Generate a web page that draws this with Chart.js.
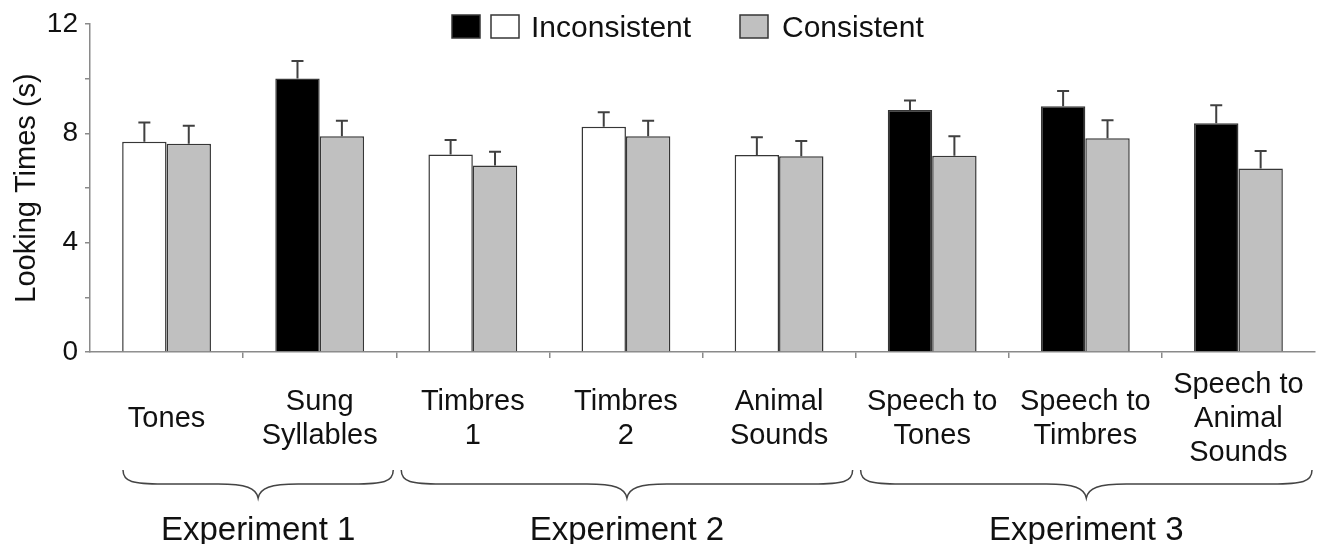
<!DOCTYPE html>
<html>
<head>
<meta charset="utf-8">
<script src="https://cdn.jsdelivr.net/npm/chart.js@4.4.1/dist/chart.umd.min.js"></script>
<style>
  html, body { margin: 0; padding: 0; background: #fff; }
  #wrap { width: 1333px; height: 544px; position: relative; }
</style>
</head>
<body>
<div id="wrap"><canvas id="lookingChart"></canvas></div>
<script>
// Categories (multi-line labels)
const categories = [
  'Tones',
  ['Sung', 'Syllables'],
  ['Timbres', '1'],
  ['Timbres', '2'],
  ['Animal', 'Sounds'],
  ['Speech to', 'Tones'],
  ['Speech to', 'Timbres'],
  ['Speech to', 'Animal', 'Sounds']
];

// Mean looking times (s) and error bars
const inconsistent = [7.69, 10.01, 7.23, 8.24, 7.21, 8.85, 8.99, 8.37];
const inconsistentErr = [0.71, 0.64, 0.53, 0.53, 0.65, 0.35, 0.56, 0.66];
const consistent = [7.62, 7.89, 6.82, 7.89, 7.16, 7.18, 7.82, 6.71];
const consistentErr = [0.66, 0.57, 0.51, 0.57, 0.56, 0.71, 0.66, 0.64];

// Experiment groups under the x axis
const experimentLabels = ['Experiment 1', 'Experiment 2', 'Experiment 3'];
const experimentFirst = [0, 2, 5];
const experimentLast = [1, 4, 7];

// Y ticks
const yTickLabels = [0, 4, 8, 12];

// Styles
const FONT = "'Liberation Sans', Arial, Helvetica, sans-serif";
const inconsistentFill = ['#ffffff', '#000000', '#ffffff', '#ffffff', '#ffffff', '#000000', '#000000', '#000000'];
const GRAY = '#c0c0c0';
const EDGE = '#363636';
const AXIS = '#8a8a8a';

// Upward error bars
const errorBars = {
  id: 'errorBars',
  afterDatasetsDraw(chart) {
    const ctx = chart.ctx;
    const y = chart.scales.y;
    ctx.save();
    ctx.strokeStyle = '#404040';
    ctx.lineWidth = 2;
    chart.data.datasets.forEach((ds, i) => {
      const meta = chart.getDatasetMeta(i);
      meta.data.forEach((bar, j) => {
        const top = y.getPixelForValue(ds.data[j] + ds.errors[j]);
        ctx.beginPath();
        ctx.moveTo(bar.x, bar.y);
        ctx.lineTo(bar.x, top);
        ctx.moveTo(bar.x - 6, top);
        ctx.lineTo(bar.x + 6, top);
        ctx.stroke();
      });
    });
    ctx.restore();
  }
};

// Curly braces + experiment names
const braces = {
  id: 'braces',
  afterDraw(chart) {
    const ctx = chart.ctx;
    const x = chart.scales.x;
    const base = chart.chartArea.bottom;
    const half = (x.getPixelForValue(1) - x.getPixelForValue(0)) / 2;
    const yTop = base + 118, yMid = base + 132, yPt = base + 146;
    ctx.save();
    ctx.strokeStyle = '#444';
    ctx.lineWidth = 1.5;
    experimentLabels.forEach((label, i) => {
      const l = x.getPixelForValue(experimentFirst[i]) - half + (experimentFirst[i] === 0 ? 33 : 5);
      const r = x.getPixelForValue(experimentLast[i]) + half - 3;
      const c = (l + r) / 2;
      ctx.beginPath();
      ctx.moveTo(l, yTop);
      ctx.bezierCurveTo(l, yMid - 2, l + 10, yMid, l + 40, yMid);
      ctx.lineTo(c - 40, yMid);
      ctx.bezierCurveTo(c - 12, yMid, c - 2, yMid + 4, c, yPt);
      ctx.bezierCurveTo(c + 2, yMid + 4, c + 12, yMid, c + 40, yMid);
      ctx.lineTo(r - 40, yMid);
      ctx.bezierCurveTo(r - 10, yMid, r, yMid - 2, r, yTop);
      ctx.stroke();

      ctx.fillStyle = '#111';
      ctx.font = '33px ' + FONT;
      ctx.textAlign = 'center';
      ctx.textBaseline = 'alphabetic';
      ctx.fillText(label, c, base + 188);
    });
    ctx.restore();
  }
};

// Legend drawn at the top, overlapping the plot area
const topLegend = {
  id: 'topLegend',
  afterDraw(chart) {
    const ctx = chart.ctx;
    ctx.save();
    ctx.lineWidth = 1.5;
    ctx.strokeStyle = EDGE;
    const box = (x, fill) => {
      ctx.fillStyle = fill;
      ctx.fillRect(x, 15, 28, 23);
      ctx.strokeRect(x, 15, 28, 23);
    };
    box(452, '#000');
    box(491, '#fff');
    box(740, GRAY);
    ctx.fillStyle = '#111';
    ctx.font = '30px ' + FONT;
    ctx.textAlign = 'left';
    ctx.textBaseline = 'alphabetic';
    ctx.fillText('Inconsistent', 531, 37);
    ctx.fillText('Consistent', 782, 37);
    ctx.restore();
  }
};

const ctx = document.getElementById('lookingChart').getContext('2d');
const lookingChart = new Chart(ctx, {
  type: 'bar',
  data: {
    labels: categories,
    datasets: [
      {
        label: 'Inconsistent',
        data: inconsistent,
        errors: inconsistentErr,
        backgroundColor: inconsistentFill,
        borderColor: EDGE,
        borderWidth: 1.5,
        borderSkipped: 'bottom',
        barPercentage: 1,
        categoryPercentage: 0.58
      },
      {
        label: 'Consistent',
        data: consistent,
        errors: consistentErr,
        backgroundColor: GRAY,
        borderColor: EDGE,
        borderWidth: 1.5,
        borderSkipped: 'bottom',
        barPercentage: 1,
        categoryPercentage: 0.58
      }
    ]
  },
  options: {
    responsive: true,
    maintainAspectRatio: false,
    animation: false,
    layout: { padding: { top: 24, right: 18, bottom: 0, left: 0 } },
    plugins: {
      legend: { display: false },
      tooltip: { enabled: false }
    },
    scales: {
      x: {
        grid: {
          drawOnChartArea: false,
          offset: true,
          tickLength: 6,
          lineWidth: 1.5,
          // no tick marks at the two ends of the axis
          color: c => (c.index === 0 || c.index === undefined ? 'rgba(0,0,0,0)' : AXIS)
        },
        border: { color: AXIS, width: 1.5 },
        ticks: {
          color: '#111',
          font: { family: FONT, size: 29, lineHeight: 1.17 },
          padding: 27,
          crossAlign: 'center',
          maxRotation: 0,
          autoSkip: false
        },
        afterFit(scale) { scale.height = 192; }
      },
      y: {
        min: 0,
        max: 12,
        grid: { drawOnChartArea: false, tickLength: 5, color: AXIS, lineWidth: 1.5 },
        border: { color: AXIS, width: 1.5 },
        ticks: {
          stepSize: 2,
          color: '#111',
          font: { family: FONT, size: 28 },
          padding: 7,
          callback: v => (yTickLabels.includes(v) ? v : '')
        },
        title: {
          display: true,
          text: 'Looking Times (s)',
          color: '#111',
          font: { family: FONT, size: 29 },
          padding: { top: 10, bottom: 0 }
        },
        afterFit(scale) { scale.width = 90; }
      }
    }
  },
  plugins: [errorBars, braces, topLegend]
});
</script>
</body>
</html>
